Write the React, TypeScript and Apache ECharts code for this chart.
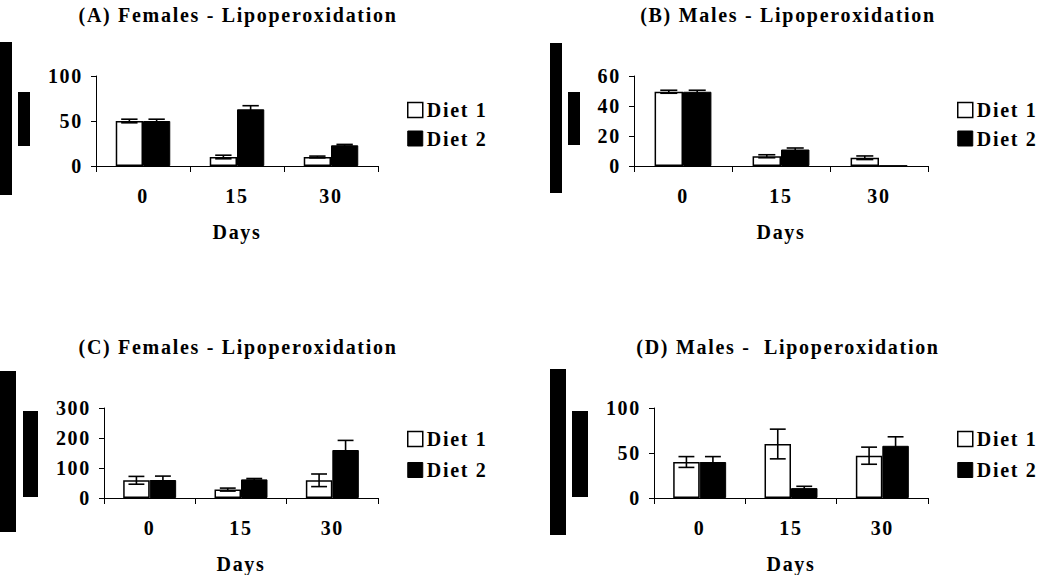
import React, { useEffect, useRef } from "react";
import * as echarts from "echarts";

// ---------- data ----------
const DAYS = ["0", "15", "30"];
const SERIES_NAMES = ["Diet 1", "Diet 2"];

const TITLES = [
  "(A) Females - Lipoperoxidation",
  "(B) Males - Lipoperoxidation",
  "(C) Females - Lipoperoxidation",
  "(D) Males -  Lipoperoxidation",
];

const A_DIET1 = [50, 10, 10];
const A_DIET1_ERR = [2, 2, 1];
const A_DIET2 = [50, 63, 23];
const A_DIET2_ERR = [2, 4, 1];

const B_DIET1 = [49.5, 6.5, 5.5];
const B_DIET1_ERR = [1, 1, 1.2];
const B_DIET2 = [49.5, 11, 0.3];
const B_DIET2_ERR = [1, 1, 0];

const C_DIET1 = [59, 28, 59];
const C_DIET1_ERR = [13, 5, 21];
const C_DIET2 = [60, 62, 160];
const C_DIET2_ERR = [13, 3, 32];

const D_DIET1 = [40, 60, 47];
const D_DIET1_ERR = [6, 16.5, 9.5];
const D_DIET2 = [40, 11, 58];
const D_DIET2_ERR = [6, 2, 10];

const Y_MAX = [100, 60, 300, 100];
const Y_INTERVAL = [50, 20, 100, 50];
const X_NAME = "Days";

// ---------- layout ----------
const FONT = "'Liberation Serif', 'Times New Roman', serif";
const FS = 20;
const GRIDS = [
  { left: 96, top: 76, width: 282, height: 90 },
  { left: 634, top: 76, width: 294, height: 90 },
  { left: 104, top: 408, width: 274, height: 90 },
  { left: 654, top: 408, width: 274, height: 90 },
];
const TITLE_POS = [
  { x: 238, y: 15 },
  { x: 788, y: 15 },
  { x: 238, y: 347 },
  { x: 788, y: 347 },
];
const LEGEND_POS = [
  { left: 407, top: 100, gap: 8.5 },
  { left: 957, top: 100, gap: 8.5 },
  { left: 407, top: 429, gap: 11 },
  { left: 957, top: 429, gap: 11 },
];
const BLOCKS = [
  [0, 42, 12, 153],
  [18, 92, 12, 54],
  [550, 43, 12, 150],
  [568, 92, 12, 53],
  [0, 371, 16, 161],
  [23, 411, 15, 86],
  [550, 369, 16, 166],
  [572, 411, 16, 86],
];

const CAT_GAP = 0.42;

export default function App() {
  const ref = useRef<HTMLDivElement>(null);

  useEffect(() => {
    if (!ref.current) return;
    const chart = echarts.init(ref.current, undefined, { renderer: "svg" });

    const panels = [
      [A_DIET1, A_DIET1_ERR, A_DIET2, A_DIET2_ERR],
      [B_DIET1, B_DIET1_ERR, B_DIET2, B_DIET2_ERR],
      [C_DIET1, C_DIET1_ERR, C_DIET2, C_DIET2_ERR],
      [D_DIET1, D_DIET1_ERR, D_DIET2, D_DIET2_ERR],
    ];

    const barStyles = [
      { color: "#fff", borderColor: "#000", borderWidth: 1.5 },
      { color: "#000", borderColor: "#000", borderWidth: 1 },
    ];

    const series: any[] = [];
    panels.forEach((p, gi) => {
      [0, 1].forEach((s) => {
        const vals = p[s * 2];
        const errs = p[s * 2 + 1];
        series.push({
          type: "bar",
          name: SERIES_NAMES[s],
          xAxisIndex: gi,
          yAxisIndex: gi,
          data: vals,
          barGap: "0%",
          barCategoryGap: CAT_GAP * 100 + "%",
          itemStyle: barStyles[s],
          z: 2,
        });
        series.push({
          type: "custom",
          name: "err" + gi + s,
          xAxisIndex: gi,
          yAxisIndex: gi,
          z: 3,
          encode: { x: 0, y: 1 },
          data: vals.map((v, i) => [i, v, errs[i]]),
          renderItem: (params: any, api: any) => {
            const idx = api.value(0);
            const v = api.value(1);
            const e = api.value(2);
            if (!e) return { type: "group", children: [] };
            const bw = api.size([1, 0])[0];
            const barW = (bw * (1 - CAT_GAP)) / 2;
            const off = ((s === 0 ? -1 : 1) * barW) / 2;
            const top = api.coord([idx, v + e]);
            const bot = api.coord([idx, Math.max(v - e, 0)]);
            const cx = top[0] + off;
            const cap = barW * 0.3;
            const st = { stroke: "#000", lineWidth: 1.6 };
            return {
              type: "group",
              children: [
                { type: "line", shape: { x1: cx, y1: top[1], x2: cx, y2: bot[1] }, style: st },
                { type: "line", shape: { x1: cx - cap, y1: top[1], x2: cx + cap, y2: top[1] }, style: st },
                { type: "line", shape: { x1: cx - cap, y1: bot[1], x2: cx + cap, y2: bot[1] }, style: st },
              ],
            };
          },
        });
      });
    });

    const textBase = { fontFamily: FONT, fontWeight: "bold" as const, color: "#000" };

    const option: any = {
      animation: false,
      backgroundColor: "#fff",
      title: TITLES.map((t, i) => ({
        text: t,
        left: TITLE_POS[i].x,
        top: TITLE_POS[i].y - 10,
        textAlign: "center",
        padding: 0,
        textStyle: { ...textBase, fontSize: FS },
      })),
      legend: LEGEND_POS.map((l) => ({
        orient: "vertical",
        left: l.left,
        top: l.top,
        padding: 0,
        itemGap: l.gap,
        itemWidth: 15,
        itemHeight: 15,
        icon: "rect",
        selectedMode: false,
        textStyle: { ...textBase, fontSize: FS, padding: [0, 0, 0, -1] },
        data: SERIES_NAMES.map((n, s) => ({ name: n, itemStyle: barStyles[s] })),
      })),
      grid: GRIDS.map((g) => ({ ...g, containLabel: false })),
      xAxis: GRIDS.map((_, i) => ({
        type: "category",
        gridIndex: i,
        data: DAYS,
        name: X_NAME,
        nameLocation: "middle",
        nameGap: 56,
        nameTextStyle: { ...textBase, fontSize: FS },
        axisLine: { show: true, lineStyle: { color: "#000", width: 1 } },
        axisTick: { show: true, length: 6, lineStyle: { color: "#000" } },
        axisLabel: { ...textBase, fontSize: FS, margin: 20 },
        splitLine: { show: false },
      })),
      yAxis: GRIDS.map((_, i) => ({
        type: "value",
        gridIndex: i,
        min: 0,
        max: Y_MAX[i],
        interval: Y_INTERVAL[i],
        axisLine: { show: true, lineStyle: { color: "#000", width: 1 } },
        axisTick: { show: true, length: 5, lineStyle: { color: "#000" } },
        axisLabel: { ...textBase, fontSize: FS, margin: 13 },
        splitLine: { show: false },
      })),
      graphic: BLOCKS.map((b) => ({
        type: "rect",
        shape: { x: b[0], y: b[1], width: b[2], height: b[3] },
        style: { fill: "#000" },
        silent: true,
      })),
      series,
    };

    chart.setOption(option);
    return () => chart.dispose();
  }, []);

  return (
    <div
      ref={ref}
      style={{
        position: "fixed",
        left: 0,
        top: 0,
        width: 1040,
        height: 575,
        background: "#fff",
        letterSpacing: "1.7px",
      }}
    />
  );
}
